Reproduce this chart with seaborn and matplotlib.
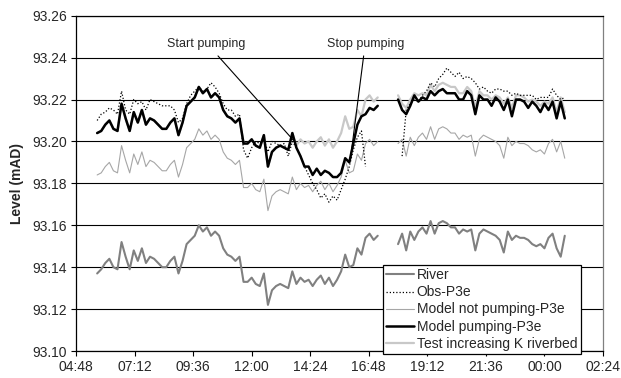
import numpy as np
import pandas as pd
import matplotlib.pyplot as plt
from matplotlib.lines import Line2D
import seaborn as sns

# Readings every 10 minutes, time in hours from midnight of day 1
seg1_start, seg1_n = 5 + 40 / 60, 70   # 05:40 - 17:10
seg2_start, seg2_n = 18.0, 42          # 18:00 - 00:50 (next day)

# Levels (mAD), first block
river_1 = [93.137, 93.139, 93.142, 93.144, 93.140, 93.139, 93.152, 93.145, 93.139, 93.148,
           93.143, 93.149, 93.142, 93.145, 93.144, 93.142, 93.140, 93.140, 93.143, 93.145,
           93.137, 93.143, 93.151, 93.153, 93.155, 93.160, 93.157, 93.159, 93.155, 93.157,
           93.155, 93.149, 93.146, 93.145, 93.143, 93.145, 93.133, 93.133, 93.135, 93.132,
           93.131, 93.137, 93.122, 93.129, 93.131, 93.132, 93.131, 93.130, 93.138, 93.132,
           93.135, 93.133, 93.134, 93.131, 93.134, 93.136, 93.132, 93.135, 93.131, 93.134,
           93.138, 93.146, 93.140, 93.141, 93.149, 93.146, 93.154, 93.156, 93.153, 93.155]
obs_1 = [93.210, 93.213, 93.214, 93.216, 93.215, 93.213, 93.224, 93.215, 93.213, 93.220,
         93.218, 93.219, 93.215, 93.220, 93.219, 93.218, 93.217, 93.217, 93.217, 93.215,
         93.209, 93.211, 93.218, 93.222, 93.224, 93.226, 93.224, 93.225, 93.228, 93.226,
         93.223, 93.218, 93.215, 93.215, 93.212, 93.213, 93.196, 93.192, 93.197, 93.200,
         93.199, 93.201, 93.195, 93.200, 93.199, 93.198, 93.199, 93.193, 93.200, 93.197,
         93.193, 93.188, 93.184, 93.180, 93.177, 93.173, 93.175, 93.171, 93.174, 93.172,
         93.177, 93.182, 93.188, 93.196, 93.202, 93.205, 93.188, np.nan, np.nan, np.nan]
not_pump_1 = [93.184, 93.185, 93.188, 93.190, 93.186, 93.185, 93.198, 93.191, 93.185, 93.194,
              93.189, 93.195, 93.188, 93.191, 93.190, 93.188, 93.186, 93.186, 93.189, 93.191,
              93.183, 93.189, 93.197, 93.199, 93.201, 93.206, 93.203, 93.205, 93.201, 93.203,
              93.201, 93.195, 93.192, 93.191, 93.189, 93.191, 93.178, 93.178, 93.180, 93.177,
              93.176, 93.182, 93.167, 93.174, 93.176, 93.177, 93.176, 93.175, 93.183, 93.177,
              93.180, 93.178, 93.179, 93.176, 93.179, 93.181, 93.177, 93.180, 93.176, 93.179,
              93.183, 93.191, 93.185, 93.186, 93.194, 93.191, 93.199, 93.201, 93.198, 93.200]
pump_1 = [93.204, 93.205, 93.208, 93.210, 93.206, 93.205, 93.218, 93.211, 93.205, 93.214,
          93.209, 93.215, 93.208, 93.211, 93.210, 93.208, 93.206, 93.206, 93.209, 93.211,
          93.203, 93.209, 93.217, 93.219, 93.221, 93.226, 93.223, 93.225, 93.221, 93.223,
          93.221, 93.215, 93.212, 93.211, 93.209, 93.211, 93.199, 93.199, 93.201, 93.198,
          93.197, 93.203, 93.188, 93.195, 93.197, 93.198, 93.197, 93.196, 93.204, 93.197,
          93.193, 93.188, 93.188, 93.184, 93.187, 93.184, 93.186, 93.185, 93.183, 93.183,
          93.185, 93.192, 93.190, 93.199, 93.208, 93.212, 93.213, 93.216, 93.215, 93.217]
test_1 = [93.204, 93.205, 93.208, 93.210, 93.206, 93.205, 93.218, 93.211, 93.205, 93.214,
          93.209, 93.215, 93.208, 93.211, 93.210, 93.208, 93.206, 93.206, 93.209, 93.211,
          93.203, 93.209, 93.217, 93.219, 93.221, 93.226, 93.223, 93.225, 93.221, 93.223,
          93.221, 93.215, 93.212, 93.211, 93.209, 93.211, 93.199, 93.199, 93.201, 93.198,
          93.197, 93.203, 93.188, 93.195, 93.197, 93.198, 93.197, 93.196, 93.204, 93.198,
          93.201, 93.199, 93.200, 93.197, 93.200, 93.202, 93.198, 93.201, 93.197, 93.200,
          93.204, 93.212, 93.206, 93.207, 93.215, 93.212, 93.220, 93.222, 93.219, 93.221]

# Levels (mAD), second block
river_2 = [93.151, 93.156, 93.148, 93.157, 93.153, 93.157, 93.159, 93.156, 93.162, 93.156,
           93.161, 93.162, 93.161, 93.159, 93.159, 93.156, 93.158, 93.157, 93.158, 93.148,
           93.156, 93.158, 93.157, 93.156, 93.155, 93.153, 93.147, 93.157, 93.153, 93.155,
           93.154, 93.154, 93.153, 93.151, 93.150, 93.151, 93.149, 93.154, 93.156, 93.149,
           93.145, 93.155]
obs_2 = [np.nan, 93.193, 93.215, 93.218, 93.220, 93.219, 93.222, 93.224, 93.228, 93.226,
         93.230, 93.232, 93.235, 93.233, 93.231, 93.233, 93.230, 93.231, 93.230, 93.228,
         93.225, 93.226, 93.224, 93.223, 93.225, 93.225, 93.224, 93.224, 93.222, 93.223,
         93.222, 93.222, 93.222, 93.222, 93.220, 93.221, 93.221, 93.221, 93.225, 93.222,
         93.220, 93.221]
not_pump_2 = [93.199, 93.201, 93.193, 93.202, 93.198, 93.202, 93.204, 93.201, 93.207, 93.201,
              93.206, 93.207, 93.206, 93.204, 93.204, 93.201, 93.203, 93.202, 93.203, 93.193,
              93.201, 93.203, 93.202, 93.201, 93.200, 93.198, 93.192, 93.202, 93.198, 93.200,
              93.199, 93.199, 93.198, 93.196, 93.195, 93.196, 93.194, 93.199, 93.201, 93.195,
              93.200, 93.192]
pump_2 = [93.220, 93.215, 93.213, 93.217, 93.222, 93.219, 93.221, 93.220, 93.224, 93.222,
          93.224, 93.225, 93.223, 93.223, 93.223, 93.220, 93.220, 93.224, 93.222, 93.213,
          93.222, 93.220, 93.220, 93.217, 93.221, 93.219, 93.215, 93.220, 93.212, 93.220,
          93.220, 93.219, 93.216, 93.219, 93.217, 93.214, 93.218, 93.215, 93.219, 93.211,
          93.219, 93.211]
test_2 = [93.222, 93.218, 93.216, 93.220, 93.223, 93.222, 93.223, 93.222, 93.227, 93.224,
          93.227, 93.228, 93.227, 93.226, 93.226, 93.223, 93.223, 93.226, 93.224, 93.216,
          93.224, 93.222, 93.222, 93.220, 93.222, 93.221, 93.218, 93.221, 93.216, 93.222,
          93.222, 93.221, 93.219, 93.220, 93.219, 93.217, 93.219, 93.218, 93.221, 93.214,
          93.221, 93.214]

# event markers: (label, text position, line start, line end) in (hours, mAD)
events = [
    ('Start pumping', (10.15, 93.2465), (10.62, 93.2408), (13.70, 93.2007)),
    ('Stop pumping', (16.67, 93.2465), (16.59, 93.2408), (16.04, 93.1910)),
]

# name: (first block, second block, colour, width, linestyle)
series = {
    'River': (river_1, river_2, '#808080', 1.5, '-'),
    'Obs-P3e': (obs_1, obs_2, 'black', 0.9, (0, (1, 1.6))),
    'Model not pumping-P3e': (not_pump_1, not_pump_2, '#a6a6a6', 0.8, '-'),
    'Model pumping-P3e': (pump_1, pump_2, 'black', 1.8, '-'),
    'Test increasing K riverbed': (test_1, test_2, '#c8c8c8', 1.6, '-'),
}
draw_order = ['River', 'Model not pumping-P3e', 'Test increasing K riverbed',
              'Model pumping-P3e', 'Obs-P3e']

t1 = seg1_start + np.arange(seg1_n) / 6
t2 = seg2_start + np.arange(seg2_n) / 6
frames = []
for name, (a, b, *_) in series.items():
    frames.append(pd.DataFrame({'time': t1, 'level': a, 'series': name, 'seg': 1}))
    frames.append(pd.DataFrame({'time': t2, 'level': b, 'series': name, 'seg': 2}))
df = pd.concat(frames, ignore_index=True).dropna()

sns.set_style('white')
plt.rcParams['font.family'] = ['Liberation Sans', 'DejaVu Sans']

fig = plt.figure(figsize=(6.21, 3.78), dpi=100)
ax = fig.add_axes([0.1224, 0.0714, 0.8486, 0.8871])

for name in draw_order:
    _, _, color, lw, ls = series[name]
    sns.lineplot(data=df[df['series'] == name], x='time', y='level', units='seg',
                 estimator=None, color=color, linewidth=lw, linestyle=ls,
                 legend=False, ax=ax)

for label, txt, start, end in events:
    ax.text(txt[0], txt[1], label, ha='center', va='center', fontsize=9)
    ax.annotate('', xy=end, xytext=start,
                arrowprops=dict(arrowstyle='-', color='black', lw=0.8,
                                shrinkA=0, shrinkB=0))

# axes
xticks = np.arange(4.8, 26.41, 2.4)
ax.set_xticks(xticks)
ax.set_xticklabels([f'{int(round(h * 60)) // 60 % 24:02d}:{int(round(h * 60)) % 60:02d}'
                    for h in xticks])
ax.set_xlim(4.8, 26.4)
ax.set_ylim(93.10, 93.26)
ax.set_yticks(np.arange(93.10, 93.261, 0.02))
ax.yaxis.set_major_formatter(plt.FormatStrFormatter('%.2f'))
ax.yaxis.grid(True, color='black', linewidth=0.8)
ax.set_axisbelow(True)
ax.tick_params(axis='both', direction='out', length=3.5, width=0.8, color='black',
               labelsize=10, pad=3, left=True, bottom=True)
ax.set_xlabel('')
ax.set_ylabel('Level (mAD)', fontsize=10, fontweight='bold', labelpad=6)
for side in ['left', 'bottom', 'top']:
    ax.spines[side].set_color('black')
    ax.spines[side].set_linewidth(0.9)
ax.spines['right'].set_color('#808080')
ax.spines['right'].set_linewidth(0.9)

handles = [Line2D([], [], color=series[n][2], lw=series[n][3], ls=series[n][4])
           for n in series]
leg = ax.legend(handles, list(series), loc='lower left', bbox_to_anchor=(0.582, -0.009),
                borderaxespad=0, fontsize=10, frameon=True, fancybox=False,
                framealpha=1, edgecolor='black', handlelength=2.0, handletextpad=0.2,
                labelspacing=0.22, borderpad=0.25)
leg.get_frame().set_linewidth(0.9)
leg.set_zorder(10)

fig.savefig('out.png', dpi=100)
